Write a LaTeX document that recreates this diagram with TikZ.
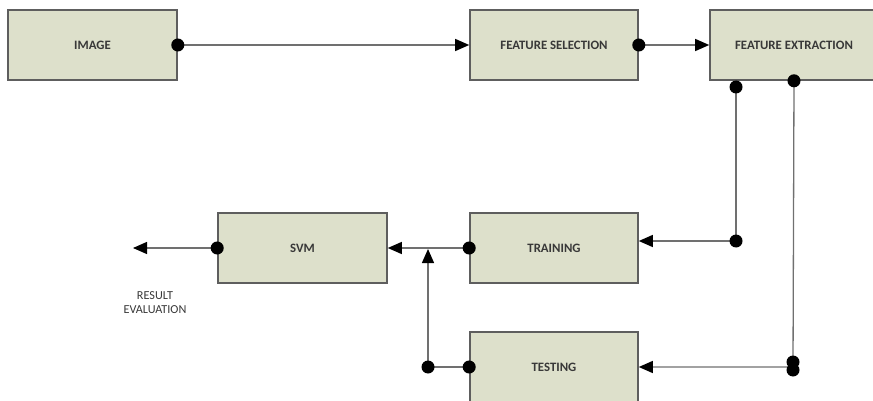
\documentclass[tikz,border=0pt]{standalone}
\usepackage{fontspec}
\setmainfont{Carlito}
\usetikzlibrary{arrows.meta, positioning}
\definecolor{boxfill}{HTML}{DDE0CB}
\definecolor{boxline}{HTML}{5E5E5E}
\definecolor{wire}{HTML}{707070}
\begin{document}
\begin{tikzpicture}[
  x=1pt, y=-1pt,
  box/.style={draw=boxline, line width=1.6pt, fill=boxfill, minimum width=168pt,
              minimum height=70pt, inner sep=0pt, text=black!78,
              font=\fontsize{12.8}{14}\selectfont\bfseries},
  arr/.style={draw=wire, line width=1.3pt,
              -{Triangle[length=14pt, width=12pt, color=black]}},
  darr/.style={arr, {Circle[length=13pt, color=black]}-{Triangle[length=14pt, width=12pt, color=black]},
               shorten <=-6.5pt},
  dot/.style={fill=black}
]
\useasboundingbox (0,0) rectangle (873,401);

\node[box, minimum width=169pt] (image) at (92.5,45) {IMAGE};
\node[box] (fsel) at (554,45) {FEATURE SELECTION};
\node[box] (fext) at (794,45) {FEATURE EXTRACTION};
\node[box] (train) at (554,248) {TRAINING};
\node[box, minimum width=169pt] (svm) at (302.5,248) {SVM};
\node[box] (test) at (554,367) {TESTING};
\node[align=center, text=black!78, font=\fontsize{12.2}{14}\selectfont] (result) at (155,303) {RESULT\\EVALUATION};

\coordinate (fxa) at (736,87);
\coordinate (trj) at (736,241);
\coordinate (tsj) at (793,367);
\coordinate (svj) at (428,248);
\coordinate (tej) at (428,367);
\coordinate (out) at (133,248);

\draw[darr] (image) -- (fsel);
\draw[darr] (fsel) -- (fext);
\draw[arr] (fxa) -- (trj) -- (train.east |- trj);
\draw[darr] (fext.south) -- (tsj) -- (test.east |- tsj);
\draw[darr] (train) -- (svm);
\draw[darr] (svm) -- (out);
\draw[darr, shorten >=1pt] (test.west) -- (tej) -- (svj);

\fill[dot] (fxa) circle (6.5pt);
\fill[dot] (trj) circle (6.5pt);
\fill[dot] (793,362) circle (6.5pt);
\fill[dot] (793,370) circle (6.5pt);
\fill[dot] (tej) circle (6.5pt);
\end{tikzpicture}
\end{document}
